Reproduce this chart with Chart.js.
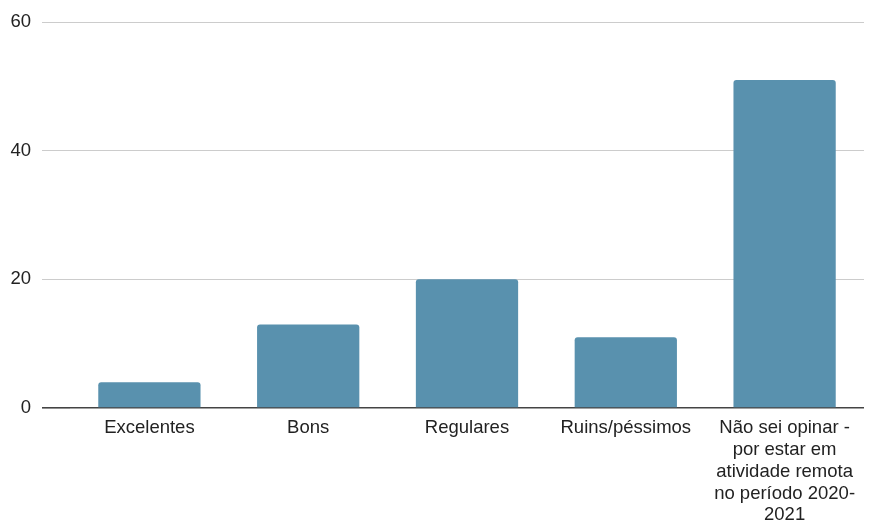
<!DOCTYPE html>
<html>
<head>
<meta charset="utf-8">
<script src="https://cdn.jsdelivr.net/npm/chart.js@4"></script>
<style>
  html, body { margin: 0; padding: 0; background: #fff; }
  #wrap { width: 880px; height: 522px; }
</style>
</head>
<body>
<div id="wrap"><canvas id="chart"></canvas></div>
<script>
// categories and values
const categories = [
    'Excelentes',
    'Bons',
    'Regulares',
    'Ruins/péssimos',
    ['Não sei opinar -', 'por estar em', 'atividade remota', 'no período 2020-', '2021']
];
const values = [4, 13, 20, 11, 51];
const yTicks = [0, 20, 40, 60];

let handle = document.getElementById('chart');
let chart = new Chart(handle, {
    type: 'bar',
    data: {
        labels: categories,
        datasets: [{
            data: values,
            backgroundColor: '#5991ae',
            borderRadius: { topLeft: 3, topRight: 3 },
            borderSkipped: 'bottom',
            barPercentage: 0.644, categoryPercentage: 1
        }]
    },
    options: {
        responsive: true, maintainAspectRatio: false, animation: false,
        layout: { padding: { top: 20, right: 16, left: 0, bottom: 0 } },
        plugins: { legend: { display: false }, tooltip: { enabled: false } },
        scales: {
            x: {
                grid: { display: false, drawTicks: false },
                border: { display: false },
                ticks: { color: '#222', font: { family: 'Liberation Sans', size: 18.5, lineHeight: '21.7px' }, padding: 9.5, maxRotation: 0, autoSkip: false },
                afterFit: function(scale) { scale.height = 114; }
            },
            y: {
                min: 0, max: 60,
                afterBuildTicks: function(scale) { scale.ticks = yTicks.map(v => ({ value: v })); },
                grid: {
                    color: ctx => ctx.tick && ctx.tick.value === 0 ? '#444' : '#cccccc',
                    lineWidth: ctx => ctx.tick && ctx.tick.value === 0 ? 1.6 : 1,
                    tickLength: 28
                },
                border: { display: false },
                ticks: { color: '#222', font: { family: 'Liberation Sans', size: 18.5 }, padding: 11 },
                afterFit: function(scale) { scale.width = 70; }
            }
        }
    }
});
</script>
</body>
</html>
